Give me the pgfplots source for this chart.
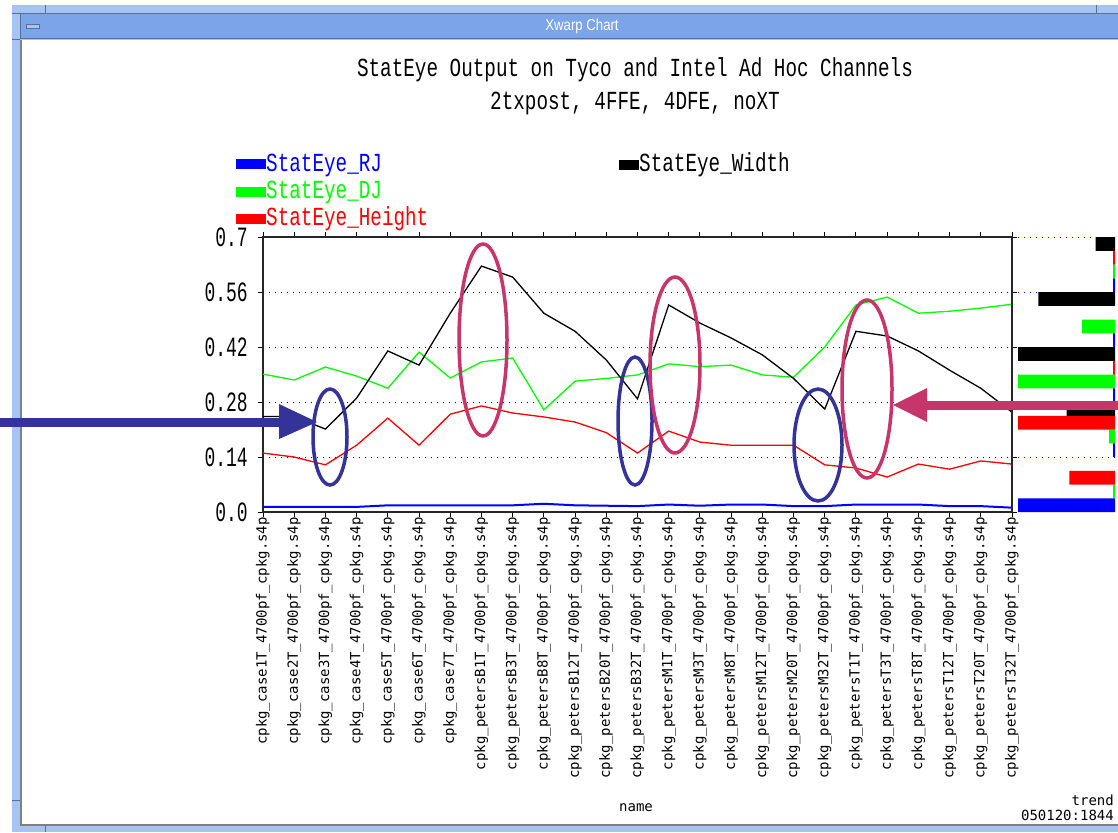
\documentclass[border=0pt]{standalone}
\usepackage{fontspec}
\usepackage{graphicx}
\usepackage{pgfplots}
\pgfplotsset{compat=1.18}
\setmainfont{Liberation Mono}
\newfontfamily\monofont{Liberation Mono}
\newfontfamily\labfont{DejaVu Sans Mono}
\newfontfamily\winfont{Liberation Sans}

\definecolor{winblue}{RGB}{123,165,232}
\definecolor{winlight}{RGB}{165,196,242}
\definecolor{winedge}{RGB}{90,110,150}
\definecolor{navy}{RGB}{51,51,153}
\definecolor{rose}{RGB}{200,53,107}
\definecolor{cgreen}{RGB}{0,255,0}
\definecolor{cblue}{RGB}{0,0,255}
\definecolor{cred}{RGB}{255,0,0}

% vertically stretched text, like the bitmap fonts of the tool
\newcommand{\tall}[2]{\scalebox{1}[#1]{#2}}

% one row per run: index, RJ, DJ, eye height, eye width
\pgfplotstableread{
i  rj    dj    height width
0  0.013 0.351 0.150  0.243
1  0.013 0.336 0.140  0.243
2  0.013 0.369 0.120  0.211
3  0.013 0.346 0.170  0.290
4  0.017 0.315 0.239  0.410
5  0.017 0.407 0.170  0.374
6  0.017 0.341 0.249  0.506
7  0.017 0.382 0.270  0.626
8  0.017 0.392 0.252  0.598
9  0.021 0.260 0.242  0.506
10 0.017 0.333 0.229  0.460
11 0.016 0.340 0.202  0.387
12 0.015 0.349 0.150  0.288
13 0.019 0.377 0.206  0.527
14 0.016 0.370 0.178  0.481
15 0.019 0.374 0.170  0.443
16 0.019 0.349 0.170  0.400
17 0.015 0.343 0.170  0.340
18 0.015 0.420 0.120  0.262
19 0.019 0.527 0.112  0.460
20 0.019 0.547 0.089  0.448
21 0.019 0.506 0.122  0.410
22 0.015 0.511 0.109  0.361
23 0.015 0.519 0.130  0.315
24 0.011 0.529 0.122  0.254
}\stateye

\begin{document}
\begin{tikzpicture}
% page = 1118 x 832 units of 1pt
\useasboundingbox (0pt,0pt) rectangle (1118pt,-832pt);

% ---- window frame ----
\begin{scope}[x=1pt,y=-1pt]
  \fill[white] (0,0) rectangle (1118,832);
  \fill[winlight] (12,5) rectangle (1118,832);
  \draw[winedge, line width=1pt] (12,13.5) -- (1118,13.5);
  \fill[winblue] (20,14) rectangle (1118,38);
  \draw[winedge, line width=1pt] (20,14) -- (20,39) -- (1118,39);
  \draw[winedge, line width=1pt] (45,5) -- (45,13);
  \draw[winedge, line width=1pt] (1096,5) -- (1096,13);
  \draw[winedge, line width=1pt] (12,39.5) -- (20,39.5);
  \draw[winedge, line width=1pt] (12,800) -- (20,800);
  \draw[winedge, line width=1pt] (45,826) -- (45,832);
  \fill[white] (21,40) rectangle (1118,824);
  \draw[gray, line width=1.5pt] (21,40) -- (21,825) -- (1118,825);
  \filldraw[fill=winlight, draw=winedge, line width=0.8pt] (26,24) rectangle (39,28.5);
  \node[white, font=\fontsize{15}{15}\winfont] at (582,26) {\scalebox{0.88}[1.05]{Xwarp Chart}};

  % titles
  \node[font=\fontsize{19.3}{20}\monofont] at (635,70)
    {\tall{1.35}{StatEye Output on Tyco and Intel Ad Hoc Channels}};
  \node[font=\fontsize{19.3}{20}\monofont] at (635,103)
    {\tall{1.35}{2txpost, 4FFE, 4DFE, noXT}};

  % legend
  \fill[cblue]  (236,159) rectangle (266,169);
  \fill[cgreen] (236,187) rectangle (266,197);
  \fill[cred]   (236,214) rectangle (266,224);
  \fill[black]  (619,160) rectangle (639,170);
  \node[anchor=west, inner sep=0pt, cblue,  font=\fontsize{19.3}{20}\monofont] at (266,165) {\tall{1.35}{StatEye\_RJ}};
  \node[anchor=west, inner sep=0pt, cgreen, font=\fontsize{19.3}{20}\monofont] at (266,192) {\tall{1.35}{StatEye\_DJ}};
  \node[anchor=west, inner sep=0pt, cred,   font=\fontsize{19.3}{20}\monofont] at (266,219) {\tall{1.35}{StatEye\_Height}};
  \node[anchor=west, inner sep=0pt, black,  font=\fontsize{19.3}{20}\monofont] at (639,165) {\tall{1.35}{StatEye\_Width}};

  % footer texts
  \node[font=\fontsize{14}{14}\labfont] at (636,808) {name};
  \node[anchor=east, inner sep=0pt, font=\fontsize{14}{14}\labfont] at (1114,800) {trend};
  \node[anchor=east, inner sep=0pt, font=\fontsize{14}{14}\labfont] at (1114,815) {050120:1844};
\end{scope}

% ---- main trend plot ----
\begin{axis}[
  at={(263pt,-512pt)}, anchor=south west,
  scale only axis, width=749pt, height=275pt,
  xmin=0, xmax=24, ymin=0, ymax=0.7,
  xtick={0,...,24},
  xticklabels={
    cpkg\_case1T\_4700pf\_cpkg.s4p, cpkg\_case2T\_4700pf\_cpkg.s4p,
    cpkg\_case3T\_4700pf\_cpkg.s4p, cpkg\_case4T\_4700pf\_cpkg.s4p,
    cpkg\_case5T\_4700pf\_cpkg.s4p, cpkg\_case6T\_4700pf\_cpkg.s4p,
    cpkg\_case7T\_4700pf\_cpkg.s4p, cpkg\_petersB1T\_4700pf\_cpkg.s4p,
    cpkg\_petersB3T\_4700pf\_cpkg.s4p, cpkg\_petersB8T\_4700pf\_cpkg.s4p,
    cpkg\_petersB12T\_4700pf\_cpkg.s4p, cpkg\_petersB20T\_4700pf\_cpkg.s4p,
    cpkg\_petersB32T\_4700pf\_cpkg.s4p, cpkg\_petersM1T\_4700pf\_cpkg.s4p,
    cpkg\_petersM3T\_4700pf\_cpkg.s4p, cpkg\_petersM8T\_4700pf\_cpkg.s4p,
    cpkg\_petersM12T\_4700pf\_cpkg.s4p, cpkg\_petersM20T\_4700pf\_cpkg.s4p,
    cpkg\_petersM32T\_4700pf\_cpkg.s4p, cpkg\_petersT1T\_4700pf\_cpkg.s4p,
    cpkg\_petersT3T\_4700pf\_cpkg.s4p, cpkg\_petersT8T\_4700pf\_cpkg.s4p,
    cpkg\_petersT12T\_4700pf\_cpkg.s4p, cpkg\_petersT20T\_4700pf\_cpkg.s4p,
    cpkg\_petersT32T\_4700pf\_cpkg.s4p},
  x tick label style={rotate=90, anchor=east, inner sep=0pt,
    font=\fontsize{14}{14}\labfont, yshift=0pt},
  ytick={0,0.14,0.28,0.42,0.56,0.7},
  yticklabels={\tall{1.55}{0.0},\tall{1.55}{0.14},\tall{1.55}{0.28},
               \tall{1.55}{0.42},\tall{1.55}{0.56},\tall{1.55}{0.7}},
  y tick label style={font=\fontsize{18}{18}\monofont, anchor=east, inner sep=0pt,
    xshift=-10pt},
  tick align=outside, major tick length=5pt,
  tick style={black, line width=1pt},
  axis line style={black!85, line width=1.6pt},
  ymajorgrids,
  grid style={black, line width=1pt, dash pattern=on 1.3pt off 4.7pt},
]
  \addplot[cblue,  line width=2pt, no marks] table[x=i, y=rj]{\stateye};
  \addplot[cgreen, line width=1.3pt, no marks] table[x=i, y=dj]{\stateye};
  \addplot[cred,   line width=1.3pt, no marks] table[x=i, y=height]{\stateye};
  \addplot[black,  line width=1.3pt, no marks] table[x=i, y=width]{\stateye};
\end{axis}

% ---- distribution bars at the right edge ----
\begin{axis}[
  at={(1018pt,-512pt)}, anchor=south west,
  scale only axis, width=97pt, height=275pt,
  xmin=0, xmax=1, x dir=reverse, ymin=0, ymax=0.7,
  hide axis, clip=false,
]
  \foreach \v in {0.14,0.56,0.7}{
    \edef\tmp{\noexpand\draw[cblue, line width=1pt, dash pattern=on 1.3pt off 4.7pt]
      (axis cs:1,\v) -- (axis cs:0,\v);}\tmp}
  \addplot[xbar, bar width=0.035, bar shift=0pt, fill=black, draw=none]
    coordinates {(0.20,0.6825) (0.79,0.5425) (1.0,0.4025) (0.50,0.2625)};
  \addplot[xbar, bar width=0.035, bar shift=0pt, fill=cgreen, draw=none]
    coordinates {(0.34,0.4725) (1.0,0.3325) (0.06,0.1925) (0.02,0.6125) (0.02,0.0525)};
  \addplot[xbar, bar width=0.035, bar shift=0pt, fill=cred, draw=none]
    coordinates {(1.0,0.2275) (0.47,0.0875) (0.02,0.6475) (0.02,0.3675)};
  \addplot[xbar, bar width=0.035, bar shift=0pt, fill=cblue, draw=none]
    coordinates {(1.0,0.0175) (0.02,0.5775) (0.02,0.4375) (0.02,0.1575) (0.02,0.2975)};
  \draw[black!85, line width=1.6pt] (axis cs:1.062,0) -- (axis cs:1.062,0.7);
\end{axis}

% ---- annotations ----
\begin{scope}[x=1pt,y=-1pt]
  \draw[navy, line width=3.5pt] (330,437) ellipse [x radius=17, y radius=48];
  \draw[navy, line width=3.5pt] (635,421) ellipse [x radius=17, y radius=64];
  \draw[navy, line width=3.5pt] (818,445) ellipse [x radius=24, y radius=56];
  \draw[rose, line width=3.5pt] (483,340) ellipse [x radius=24, y radius=96];
  \draw[rose, line width=3.5pt] (675,365) ellipse [x radius=25, y radius=88];
  \draw[rose, line width=3.5pt] (867,389) ellipse [x radius=25, y radius=89];
  \fill[navy] (0,417.5) rectangle (281,426.5);
  \fill[navy] (279,404) -- (317,422) -- (279,439) -- cycle;
  \fill[rose] (925,400.5) rectangle (1118,409.5);
  \fill[rose] (927,388) -- (893,405) -- (927,422) -- cycle;
\end{scope}
\end{tikzpicture}
\end{document}
